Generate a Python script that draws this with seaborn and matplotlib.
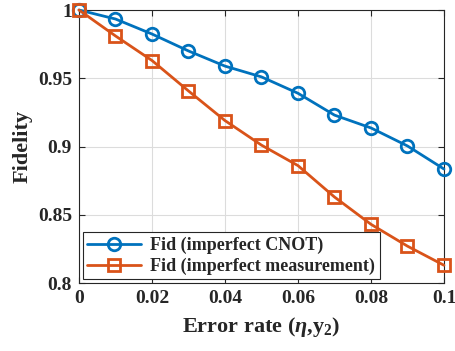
import numpy as np
import pandas as pd
import seaborn as sns
import matplotlib
matplotlib.use('Agg')
import matplotlib.pyplot as plt

# values
error_rate = [0, 0.01, 0.02, 0.03, 0.04, 0.05, 0.06, 0.07, 0.08, 0.09, 0.1]
fid_cnot = [1.0, 0.9934, 0.9824, 0.970, 0.9589, 0.951, 0.939, 0.923, 0.9136, 0.9004, 0.8835]
fid_meas = [1.0, 0.981, 0.963, 0.9407, 0.919, 0.901, 0.886, 0.863, 0.843, 0.827, 0.813]
labels = ['Fid (imperfect CNOT)', 'Fid (imperfect measurement)']
colors = ['#0072BD', '#D95319']
markers = ['o', 's']

sns.set_style('ticks')
plt.rcParams['font.family'] = ['Liberation Serif', 'DejaVu Serif']
plt.rcParams['font.weight'] = 'bold'
plt.rcParams['mathtext.fontset'] = 'custom'
plt.rcParams['mathtext.rm'] = 'Liberation Serif:bold'
plt.rcParams['mathtext.it'] = 'Liberation Serif:italic:bold'
plt.rcParams['mathtext.bf'] = 'Liberation Serif:bold'

fig = plt.figure(figsize=(4.55, 3.51), dpi=100)
ax = fig.add_axes([0.1736, 0.1937, 0.8022, 0.7778])

for ys, lab, c, m in zip([fid_cnot, fid_meas], labels, colors, markers):
    sns.lineplot(x=error_rate, y=ys, color=c, marker=m, label=lab,
                 linewidth=2, markersize=9 if m == 'o' else 8,
                 markerfacecolor='none', markeredgecolor=c,
                 markeredgewidth=2, ax=ax, clip_on=False, zorder=3)

ax.set_xlim(0, 0.1)
ax.set_ylim(0.8, 1.0)
ax.set_xticks([0, 0.02, 0.04, 0.06, 0.08, 0.1])
ax.set_xticklabels(['0', '0.02', '0.04', '0.06', '0.08', '0.1'])
ax.set_yticks([0.8, 0.85, 0.9, 0.95, 1.0])
ax.set_yticklabels(['0.8', '0.85', '0.9', '0.95', '1'])
ax.grid(True, color='#dcdcdc', linewidth=0.8)
ax.set_axisbelow(True)
ax.tick_params(direction='in', top=True, right=True, labelsize=14, length=4,
               color='#262626', pad=5)
for s in ax.spines.values():
    s.set_color('#262626')
    s.set_linewidth(0.8)
    s.set_visible(True)

ax.set_xlabel(r'Error rate ($\eta$,$\mathrm{y}_2$)', fontsize=16, fontweight='bold', labelpad=6)
ax.set_ylabel('Fidelity', fontsize=16, fontweight='bold', labelpad=4)

leg = ax.legend(loc='lower left', fontsize=13, frameon=True, fancybox=False,
                edgecolor='#262626', borderaxespad=0.2, handlelength=3,
                borderpad=0.25, labelspacing=0.2, handletextpad=0.5,
                framealpha=1)
leg.get_frame().set_linewidth(0.8)

fig.savefig('out.png', dpi=100)
